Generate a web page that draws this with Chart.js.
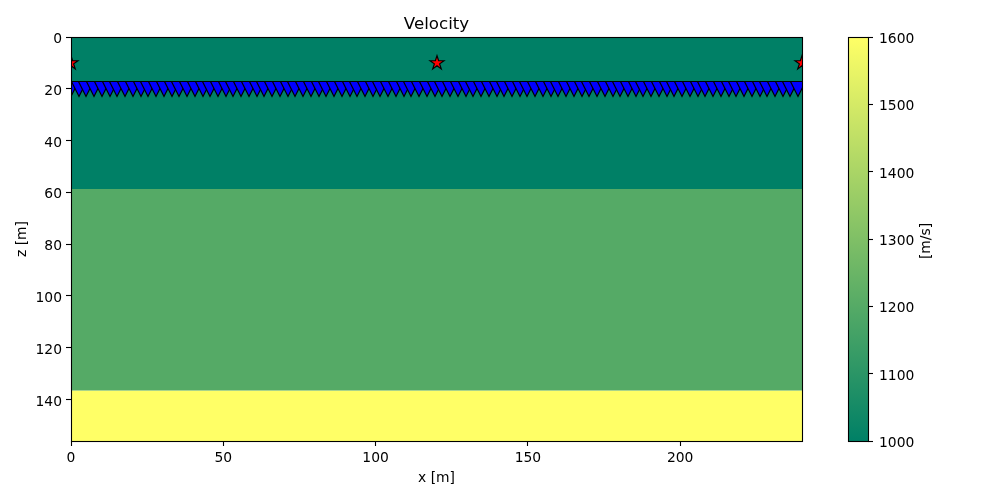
<!DOCTYPE html>
<html><head><meta charset="utf-8">
<style>html,body{margin:0;padding:0;background:#fff}canvas{position:absolute;left:0;top:0}</style>
<script src="https://cdn.jsdelivr.net/npm/chart.js@4/dist/chart.umd.js"></script>
</head><body>
<canvas id="main" width="1000" height="500"></canvas>
<canvas id="cbar" width="1000" height="500"></canvas>
<script>
const xTicks=[0,50,100,150,200];
const zTicks=[0,20,40,60,80,100,120,140];
const cbTicks=[1000,1100,1200,1300,1400,1500,1600];
const layerBottoms=[58.7,136.5,156];
const layerTops=[0,58.7,136.5];
const layerVelocity=[1000,1200,1600];
const sourceX=[0,120,240];
const sourceZ=[10,10,10];
const receiverX=[0,2.54,5.08,7.62,10.16,12.7,15.24,17.78,20.32,22.86,25.4,27.94,30.48,33.02,35.56,38.1,40.64,43.18,45.72,48.26,50.8,53.34,55.88,58.42,60.96,63.5,66.04,68.58,71.12,73.66,76.2,78.74,81.28,83.82,86.36,88.9,91.44,93.98,96.52,99.06,101.6,104.14,106.68,109.22,111.76,114.3,116.84,119.38,121.92,124.46,127,129.54,132.08,134.62,137.16,139.7,142.24,144.78,147.32,149.86,152.4,154.94,157.48,160.02,162.56,165.1,167.64,170.18,172.72,175.26,177.8,180.34,182.88,185.42,187.96,190.5,193.04,195.58,198.12,200.66,203.2,205.74,208.28,210.82,213.36,215.9,218.44,220.98,223.52,226.06,228.6,231.14,233.68,236.22,238.76];
const receiverDepth=20;
const FONT='"DejaVu Sans"';
const TICK=13.89;
function summer(v){const t=(v-1000)/600;return `rgb(${Math.round(255*t)},${Math.round(127.5+127.5*t)},102)`;}
function marker(draw){const c=document.createElement('canvas');c.width=30;c.height=30;const g=c.getContext('2d');g.translate(15,15);g.lineWidth=1.2;g.lineJoin='miter';g.miterLimit=10;g.strokeStyle='#000';g.beginPath();draw(g);g.closePath();g.fill();g.stroke();return c;}
const triangle=marker(g=>{g.fillStyle='#0000ff';g.moveTo(-7.5,-7.5);g.lineTo(7.5,-7.5);g.lineTo(0,7.5);});
const star=marker(g=>{g.fillStyle='#ff0000';const R=7.3,r=R*0.381966;for(let i=0;i<10;i++){const a=i*Math.PI/5,q=i%2?r:R;g.lineTo(q*Math.sin(a),-q*Math.cos(a));}});
const snap={id:'snap',beforeDatasetsDraw(ch){ch.ctx.imageSmoothingEnabled=false;}};
const spines={id:'spines',afterDatasetsDraw(ch){const a=ch.chartArea,g=ch.ctx;g.save();g.strokeStyle='#000';g.lineWidth=1.1;g.strokeRect(Math.round(a.left)+.5,Math.round(a.top)+.5,Math.round(a.right-a.left),Math.round(a.bottom-a.top));g.restore();}};
const layers=layerBottoms.map((b,i)=>({type:'line',label:'layer '+(i+1),data:[{x:0,y:b},{x:240,y:b}],borderWidth:0,pointRadius:0,backgroundColor:summer(layerVelocity[i]),fill:{value:layerTops[i]},order:10,clip:0}));
new Chart(document.getElementById('main'),{
 type:'scatter',
 data:{datasets:[
  {label:'sources',data:sourceX.map((x,i)=>({x,y:sourceZ[i]})),pointStyle:star,pointRadius:8,order:1,clip:0},
  {label:'receivers',data:receiverX.map(x=>({x,y:receiverDepth})),pointStyle:triangle,pointRadius:7,order:2,clip:0},
  ...layers]},
 plugins:[snap,spines],
 options:{responsive:false,animation:false,events:[],
  layout:{padding:{left:0,right:198,top:0,bottom:0}},
  plugins:{legend:{display:false},tooltip:{enabled:false},
   title:{display:true,text:'Velocity',fullSize:false,color:'#000',font:{family:FONT,size:16.67,weight:'normal',lineHeight:1.2},padding:{top:15,bottom:2}}},
  scales:{
   x:{type:'linear',min:0,max:240,afterBuildTicks(s){s.ticks=xTicks.map(value=>({value}));},afterFit(s){s.height=59;},
    grid:{drawOnChartArea:false,tickLength:5,tickColor:'#000',tickWidth:1.1},border:{display:false},
    ticks:{color:'#000',font:{family:FONT,size:TICK},padding:4,maxRotation:0},
    title:{display:true,text:'x [m]',color:'#000',font:{family:FONT,size:TICK},padding:{top:17,bottom:13}}},
   y:{type:'linear',reverse:true,min:0,max:156,afterBuildTicks(s){s.ticks=zTicks.map(value=>({value}));},afterFit(s){s.width=71;},
    grid:{drawOnChartArea:false,tickLength:5,tickColor:'#000',tickWidth:1.1},border:{display:false},
    ticks:{color:'#000',font:{family:FONT,size:TICK},padding:4,labelOffset:2.5},
    title:{display:true,text:'z [m]',color:'#000',font:{family:FONT,size:TICK},padding:{top:14,bottom:10}}}
  }}
});
const cbLabel={id:'cbLabel',afterDraw(ch){const g=ch.ctx;g.save();g.translate(926,241);g.rotate(-Math.PI/2);g.font=TICK+'px '+FONT;g.fillStyle='#000';g.textAlign='center';g.textBaseline='middle';g.fillText('[m/s]',0,0);g.restore();}};
new Chart(document.getElementById('cbar'),{
 type:'bar',
 data:{labels:[''],datasets:[{label:'[m/s]',data:[[cbTicks[0],cbTicks[cbTicks.length-1]]],barPercentage:1,categoryPercentage:1,borderWidth:0,
  backgroundColor(c){const a=c.chart.chartArea;if(!a)return summer(1000);const gr=c.chart.ctx.createLinearGradient(0,a.bottom,0,a.top);gr.addColorStop(0,summer(1000));gr.addColorStop(1,summer(1600));return gr;}}]},
 plugins:[spines,cbLabel],
 options:{responsive:false,animation:false,events:[],
  layout:{padding:{left:848,right:0,top:37,bottom:59}},
  plugins:{legend:{display:false},tooltip:{enabled:false},title:{display:false}},
  scales:{
   x:{display:false},
   y:{position:'right',min:1000,max:1600,afterBuildTicks(s){s.ticks=cbTicks.map(value=>({value}));},afterFit(s){s.width=132;},
    grid:{drawOnChartArea:false,tickLength:5,tickColor:'#000',tickWidth:1.1},border:{display:false},
    ticks:{color:'#000',font:{family:FONT,size:TICK},padding:6,labelOffset:2.5,callback:v=>String(v)}}
  }}
});
</script>
</body></html>
